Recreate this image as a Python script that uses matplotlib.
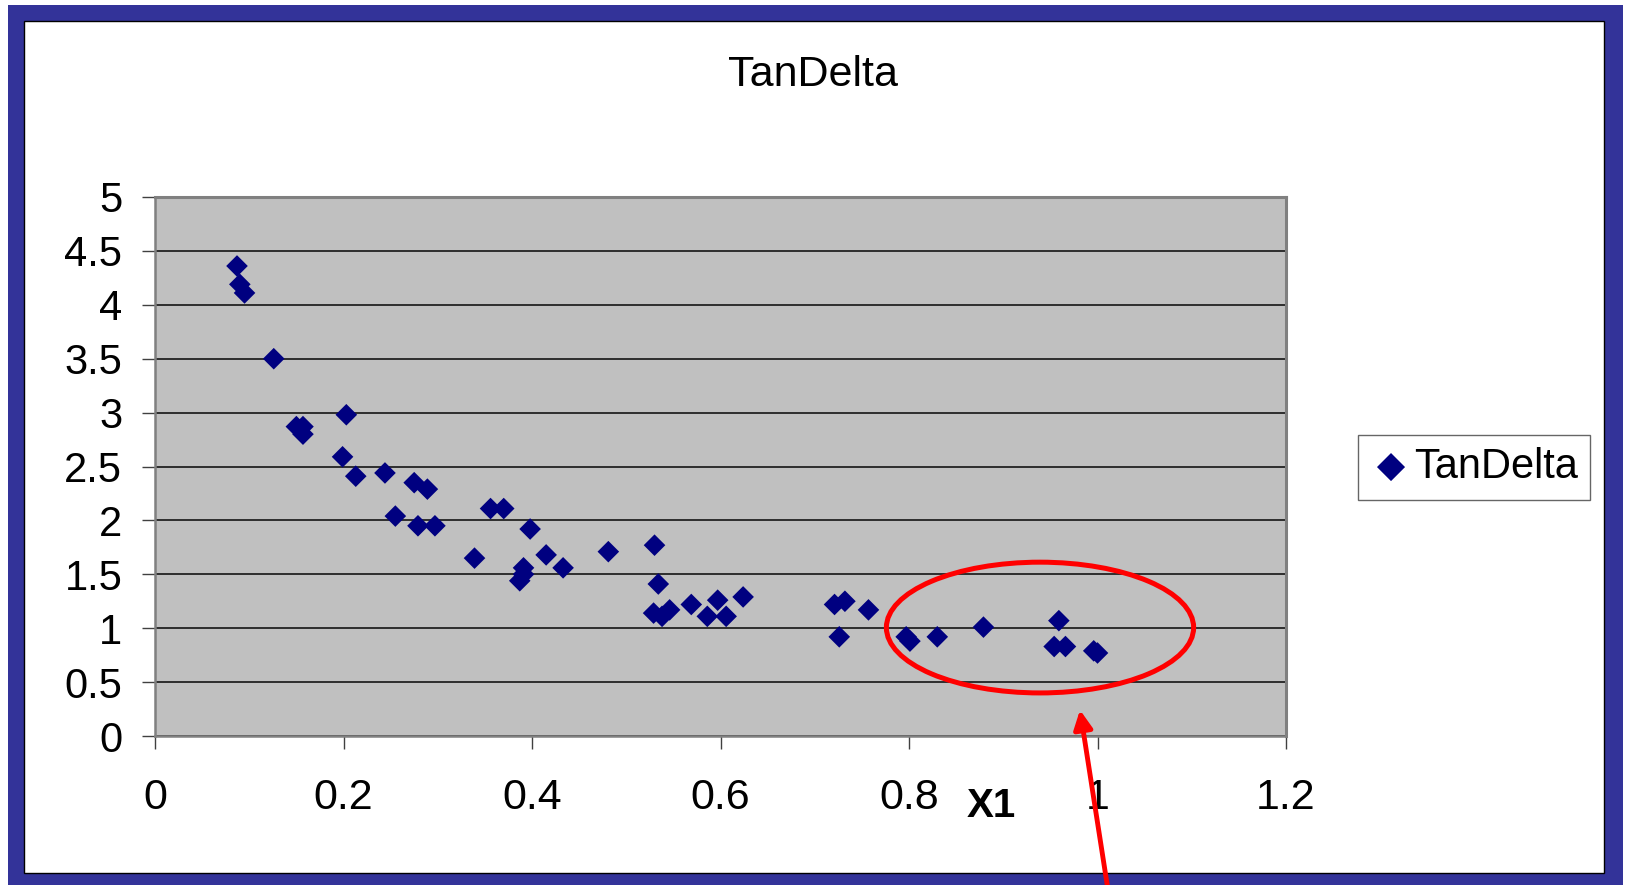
import matplotlib
matplotlib.use("Agg")
import matplotlib.pyplot as plt
from matplotlib.patches import Rectangle, Ellipse

plt.rcParams["font.family"] = ["Liberation Sans", "DejaVu Sans"]

# TanDelta vs X1 measurements
x1 = [0.087, 0.090, 0.095, 0.126, 0.150, 0.157, 0.157, 0.203, 0.199, 0.213,
      0.244, 0.275, 0.289, 0.255, 0.279, 0.297, 0.339, 0.356, 0.370, 0.398,
      0.415, 0.433, 0.391, 0.391, 0.387, 0.481, 0.530, 0.534, 0.529, 0.538,
      0.546, 0.569, 0.586, 0.597, 0.606, 0.624, 0.721, 0.732, 0.757, 0.726,
      0.797, 0.801, 0.830, 0.879, 0.959, 0.954, 0.966, 0.996, 1.000]
tan_delta = [4.36, 4.19, 4.11, 3.50, 2.87, 2.87, 2.80, 2.98, 2.59, 2.41,
             2.44, 2.35, 2.29, 2.04, 1.95, 1.95, 1.65, 2.11, 2.11, 1.92,
             1.68, 1.56, 1.56, 1.50, 1.44, 1.71, 1.77, 1.41, 1.14, 1.11,
             1.17, 1.22, 1.11, 1.26, 1.11, 1.29, 1.22, 1.25, 1.17, 0.92,
             0.92, 0.88, 0.92, 1.01, 1.07, 0.83, 0.83, 0.79, 0.77]
x_ticks = [0, 0.2, 0.4, 0.6, 0.8, 1, 1.2]
x_tick_labels = ["0", "0.2", "0.4", "0.6", "0.8", "1", "1.2"]
y_ticks = [0, 0.5, 1, 1.5, 2, 2.5, 3, 3.5, 4, 4.5, 5]
y_tick_labels = ["0", "0.5", "1", "1.5", "2", "2.5", "3", "3.5", "4", "4.5", "5"]

W, H = 1629, 885
fig = plt.figure(figsize=(W / 100, H / 100), dpi=100)
fig.patch.set_facecolor("white")


def fx(px):
    return px / W


def fy(py):
    return 1 - py / H


# slide frame: blue border with white panel inside
fig.patches.append(Rectangle((fx(8), 0), fx(1623 - 8), (H - 5) / H,
                             transform=fig.transFigure, facecolor="#333399",
                             edgecolor="none", zorder=-3))
fig.patches.append(Rectangle((fx(24), fy(873)), fx(1604 - 24), (873 - 21) / H,
                             transform=fig.transFigure, facecolor="white",
                             edgecolor="black", linewidth=1, zorder=-2))

ax = fig.add_axes([fx(155), fy(736), fx(1286 - 155), (736 - 197) / H])
ax.set_facecolor("#C0C0C0")
ax.scatter(x1, tan_delta, marker="D", s=11.0 ** 2, color="#000080",
           edgecolors="none", zorder=3, label="TanDelta")

ax.set_xlim(0, 1.2)
ax.set_ylim(0, 5)
ax.set_xticks(x_ticks)
ax.set_xticklabels(x_tick_labels)
ax.set_yticks(y_ticks)
ax.set_yticklabels(y_tick_labels)
ax.tick_params(axis="y", length=9.5, width=1, color="#404040", pad=14, labelsize=30)
ax.tick_params(axis="x", length=9.5, width=1, color="#404040", pad=21, labelsize=31)
ax.yaxis.grid(True, color="#222222", linewidth=1.3)
ax.set_axisbelow(True)
for side in ["left", "bottom"]:
    ax.spines[side].set_color("#808080")
    ax.spines[side].set_linewidth(1.8)
for side in ["top", "right"]:
    ax.spines[side].set_color("#808080")
    ax.spines[side].set_linewidth(2.2)

# highlighted cluster at high X1
ax.add_patch(Ellipse((0.939, 1.006), 0.326, 1.213, fill=False,
                     edgecolor="red", linewidth=3.6, zorder=4, clip_on=False))
ax.annotate("", xy=(1080, H - 710), xycoords="figure pixels",
            xytext=(1108, -5), textcoords="figure pixels",
            arrowprops=dict(arrowstyle="-|>", color="red", lw=3.5,
                            mutation_scale=28, shrinkA=0, shrinkB=0),
            annotation_clip=False, zorder=6)

fig.text(fx(813), fy(86), "TanDelta", ha="center", va="baseline", fontsize=31)
fig.text(fx(991), fy(806), "X1", ha="center", va="center", fontsize=29,
         fontweight="bold")

leg = fig.legend(loc="center", bbox_to_anchor=(fx(1474), fy(467)),
                 fontsize=30, frameon=True, fancybox=False, borderpad=0.3,
                 handletextpad=0.05, handlelength=1.0, borderaxespad=0,
                 markerscale=1.3)
leg.get_frame().set_edgecolor("#404040")
leg.get_frame().set_linewidth(1.0)

fig.savefig("out.png", dpi=100)
